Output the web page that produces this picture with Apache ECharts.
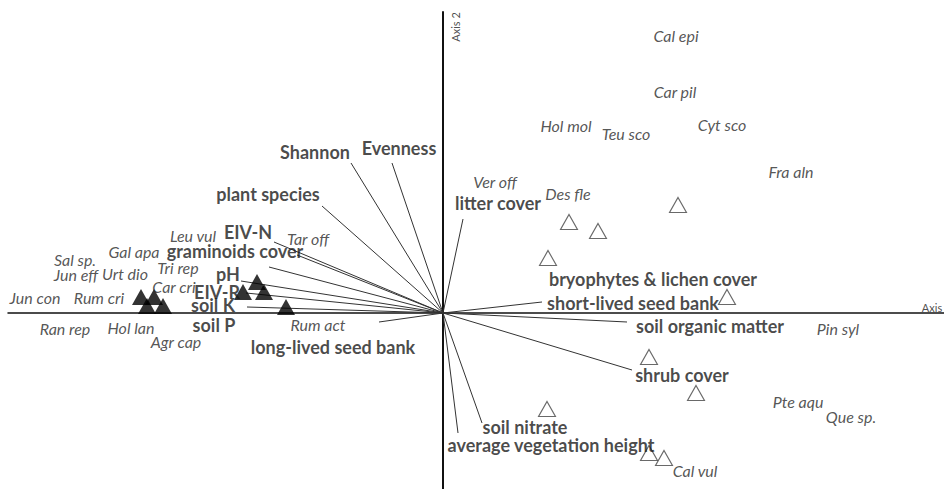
<!DOCTYPE html>
<html>
<head>
<meta charset="utf-8">
<script src="https://cdn.jsdelivr.net/npm/echarts@6/dist/echarts.min.js"></script>
<style>html,body{margin:0;padding:0;background:#fff}#c{width:944px;height:489px}</style>
</head>
<body>
<div id="c"></div>
<script>
// Environmental vectors (endpoint in ordination units)
var vecNames = ['Shannon','Evenness','plant species','EIV-N','graminoids cover','pH','EIV-R','soil K','soil P','long-lived seed bank','litter cover','short-lived seed bank','soil organic matter','shrub cover','soil nitrate','average vegetation height'];
var vecX = [-0.92,-0.51,-1.21,-1.69,-1.46,-1.74,-2.02,-1.97,-1.96,-0.64,0.20,0.99,1.84,1.89,0.39,0.15];
var vecY = [1.50,1.50,1.07,0.71,0.58,0.46,0.32,0.20,0.06,-0.09,0.94,0.11,-0.09,-0.57,-1.10,-1.20];
// Vector label positions
var vecLabNames = ['Shannon','Evenness','plant species','EIV-N','graminoids cover','pH','EIV-R','soil K','soil P','long-lived seed bank','litter cover','bryophytes & lichen cover','short-lived seed bank','soil organic matter','shrub cover','soil nitrate','average vegetation height'];
var vecLabX = [-1.28,-0.44,-1.75,-1.95,-2.08,-2.15,-2.26,-2.30,-2.29,-1.10,0.55,2.10,1.90,2.67,2.39,0.82,1.08];
var vecLabY = [1.61,1.65,1.19,0.81,0.62,0.39,0.21,0.08,-0.12,-0.34,1.10,0.34,0.10,-0.13,-0.62,-1.14,-1.32];
// Sites: group 1 (filled) and group 2 (open)
var site1X = [-3.02,-2.89,-2.96,-2.80,-1.86,-2.00,-1.79,-1.57];
var site1Y = [0.16,0.16,0.07,0.07,0.31,0.21,0.21,0.06];
var site2X = [2.35,1.26,1.55,1.05,2.84,2.06,2.53,1.04,2.06,2.21];
var site2Y = [1.08,0.91,0.82,0.55,0.16,-0.44,-0.80,-0.96,-1.40,-1.45];
// Species scores
var spNames = ['Cal epi','Car pil','Hol mol','Teu sco','Cyt sco','Fra aln','Ver off','Des fle','Pin syl','Pte aqu','Que sp.','Cal vul','Sal sp.','Gal apa','Leu vul','Tar off','Jun eff','Urt dio','Tri rep','Car cri','Jun con','Rum cri','Ran rep','Hol lan','Agr cap','Rum act'];
var spX = [2.33,2.32,1.23,1.83,2.79,3.48,0.52,1.25,3.95,3.55,4.08,2.52,-3.68,-3.09,-2.50,-1.35,-3.67,-3.18,-2.65,-2.69,-4.08,-3.44,-3.78,-3.12,-2.67,-1.25];
var spY = [2.78,2.22,1.88,1.80,1.89,1.42,1.32,1.20,-0.15,-0.88,-1.03,-1.57,0.54,0.62,0.78,0.75,0.39,0.40,0.46,0.27,0.16,0.16,-0.15,-0.14,-0.28,-0.11];
var axisNames = ['Axis', 'Axis 2'];

var chart = echarts.init(document.getElementById('c'), null, {renderer: 'svg'});
function zip(xs, ys, names) {
  return xs.map(function (x, i) { return names ? {name: names[i], value: [x, ys[i]]} : [x, ys[i]]; });
}
var FONT = 'Lato';
chart.setOption({
  animation: false,
  grid: {left: 8, right: 0, top: 12, bottom: 0, containLabel: false},
  xAxis: {type: 'value', min: -4.35, max: 5.01, axisLine: {show: true, onZero: true, lineStyle: {color: '#111', width: 1.5}},
          axisTick: {show: false}, axisLabel: {show: false}, splitLine: {show: false}},
  yAxis: {type: 'value', min: -1.76, max: 3.01, axisLine: {show: true, onZero: true, lineStyle: {color: '#111', width: 2}},
          axisTick: {show: false}, axisLabel: {show: false}, splitLine: {show: false}},
  series: [
    {type: 'lines', coordinateSystem: 'cartesian2d', silent: true,
     lineStyle: {color: '#333', width: 1, opacity: 1},
     data: vecX.map(function (x, i) { return {name: vecNames[i], coords: [[0, 0], [x, vecY[i]]]}; })},
    {type: 'scatter', symbol: 'triangle', symbolSize: [18, 16], itemStyle: {color: '#000'},
     data: zip(site1X, site1Y)},
    {type: 'scatter', symbol: 'triangle', symbolSize: [17, 15],
     itemStyle: {color: '#fff', borderColor: '#444', borderWidth: 1.1},
     data: zip(site2X, site2Y)},
    {type: 'scatter', symbolSize: 0, silent: true,
     label: {show: true, position: 'inside', formatter: '{b}', color: '#1a1a1a', fontFamily: FONT, fontWeight: 'bold', fontSize: 18},
     data: zip(vecLabX, vecLabY, vecLabNames)},
    {type: 'scatter', symbolSize: 0, silent: true,
     label: {show: true, position: 'inside', formatter: '{b}', color: '#2a2a2a', fontFamily: FONT, fontStyle: 'italic', fontSize: 16},
     data: zip(spX, spY, spNames)},
    {type: 'scatter', symbolSize: 0, silent: true,
     label: {show: true, position: 'inside', formatter: '{b}', color: '#222', fontFamily: FONT, fontSize: 11},
     data: [{name: axisNames[0], value: [4.89, 0.06]}]},
    {type: 'scatter', symbolSize: 0, silent: true,
     label: {show: true, position: 'inside', rotate: 90, formatter: '{b}', color: '#222', fontFamily: FONT, fontSize: 11},
     data: [{name: axisNames[1], value: [0.12, 2.86]}]}
  ]
});
</script>
</body>
</html>
